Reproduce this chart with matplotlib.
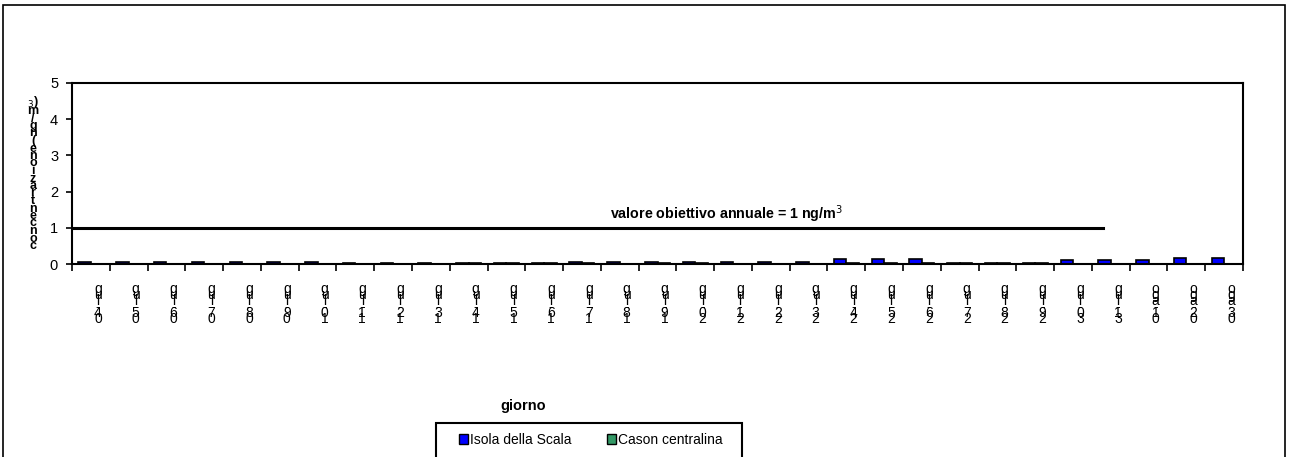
import numpy as np
import matplotlib
matplotlib.use("Agg")
from matplotlib import pyplot as plt
from matplotlib.patches import Rectangle, Patch
import matplotlib.transforms as mtransforms

plt.rcParams['font.family'] = ['Liberation Sans', 'DejaVu Sans']

# data
days = ["04-lug", "05-lug", "06-lug", "07-lug", "08-lug", "09-lug", "10-lug",
        "11-lug", "12-lug", "13-lug", "14-lug", "15-lug", "16-lug", "17-lug",
        "18-lug", "19-lug", "20-lug", "21-lug", "22-lug", "23-lug", "24-lug",
        "25-lug", "26-lug", "27-lug", "28-lug", "29-lug", "30-lug", "31-lug",
        "01-ago", "02-ago", "03-ago"]
isola = [0.06, 0.06, 0.06, 0.06, 0.06, 0.06, 0.06,
         0.03, 0.03, 0.03, 0.03, 0.03, 0.03, 0.05,
         0.05, 0.05, 0.05, 0.05, 0.05, 0.05, 0.13,
         0.13, 0.13, 0.03, 0.03, 0.03, 0.11, 0.11,
         0.11, 0.17, 0.17]
cason = [0, 0, 0, 0, 0, 0, 0,
         0, 0, 0, 0.03, 0.03, 0.03, 0.03,
         0, 0.03, 0.03, 0, 0, 0, 0.02,
         0.02, 0.02, 0.03, 0.03, 0.03, 0, 0,
         0, 0, 0]
target = 1.0
y_ticks = [0, 1, 2, 3, 4, 5]
series_names = ["Isola della Scala", "Cason centralina"]
colors = ["#0000FF", "#339966"]

fig = plt.figure(figsize=(12.89, 4.57), dpi=100)
W, H = 1289, 457

# outer frame of the chart object
fig.patches.append(Rectangle((3 / W, -0.02), 1282 / W, 1 - 5 / H + 0.02,
                             transform=fig.transFigure, fill=False,
                             edgecolor="black", linewidth=1.2))

ax = fig.add_axes([72 / W, 1 - 264 / H, 1171 / W, 181 / H])
x = np.arange(len(days))
bw = 0.33
ax.bar(x - bw / 2, isola, width=bw, color=colors[0], edgecolor="black", linewidth=1.2)
ax.bar(x + bw / 2, cason, width=bw, color=colors[1], edgecolor="black", linewidth=1.2)

ax.axhline(target, xmin=0, xmax=(1103 - 72) / 1171, color="black", linewidth=2.2)
ax.text(0.559, target + 0.07, "valore obiettivo annuale = %g ng/m$^3$" % target,
        transform=mtransforms.blended_transform_factory(ax.transAxes, ax.transData),
        ha="center", va="bottom", fontsize=10.3, fontweight="bold")

ax.set_xlim(-0.5, len(days) - 0.5)
ax.set_ylim(0, 5)
ax.set_yticks(y_ticks)
ax.tick_params(axis="y", labelsize=10.5, length=4, width=1.2, direction="out", pad=6)
ax.set_xticks(np.arange(len(days) + 1) - 0.5)
ax.set_xticklabels([])
ax.tick_params(axis="x", length=5, width=1.2, direction="out")
for s in ax.spines.values():
    s.set_linewidth(1.5)

# stacked (garbled) category labels
off = mtransforms.ScaledTranslation(7 / 100, -18 / 100, fig.dpi_scale_trans)
tr = mtransforms.blended_transform_factory(ax.transData, ax.transAxes) + off
for i, d in enumerate(days):
    ax.text(i, 0, "\n".join(reversed(d)), transform=tr, ha="center", va="top",
            fontsize=10, linespacing=0.27)

# stacked y-axis label
ylab = list("concentrazione(ng/m") + ["$_3$)"]
fig.text(33 / W, 1 - 252 / H, "\n".join(reversed(ylab)), ha="center", va="bottom",
         fontsize=9, fontweight="bold", linespacing=0.5)

fig.text(523 / W, 1 - 406 / H, "giorno", ha="center", va="center",
         fontsize=10.5, fontweight="bold")

# legend: frame drawn separately so its width matches
fig.patches.append(Rectangle((436 / W, -0.02), 306 / W, (457 - 423) / H + 0.02,
                             transform=fig.transFigure, fill=False,
                             edgecolor="black", linewidth=1.5))
handles = [Patch(facecolor=c, edgecolor="black", linewidth=1.0) for c in colors]
leg = fig.legend(handles, series_names, loc="center",
                 bbox_to_anchor=(591 / W, 1 - 440 / H), ncol=2, fontsize=10,
                 frameon=False, handlelength=0.6, handleheight=0.8,
                 handletextpad=0.15, columnspacing=2.6, borderpad=0, borderaxespad=0)

fig.savefig("out.png", dpi=100)
